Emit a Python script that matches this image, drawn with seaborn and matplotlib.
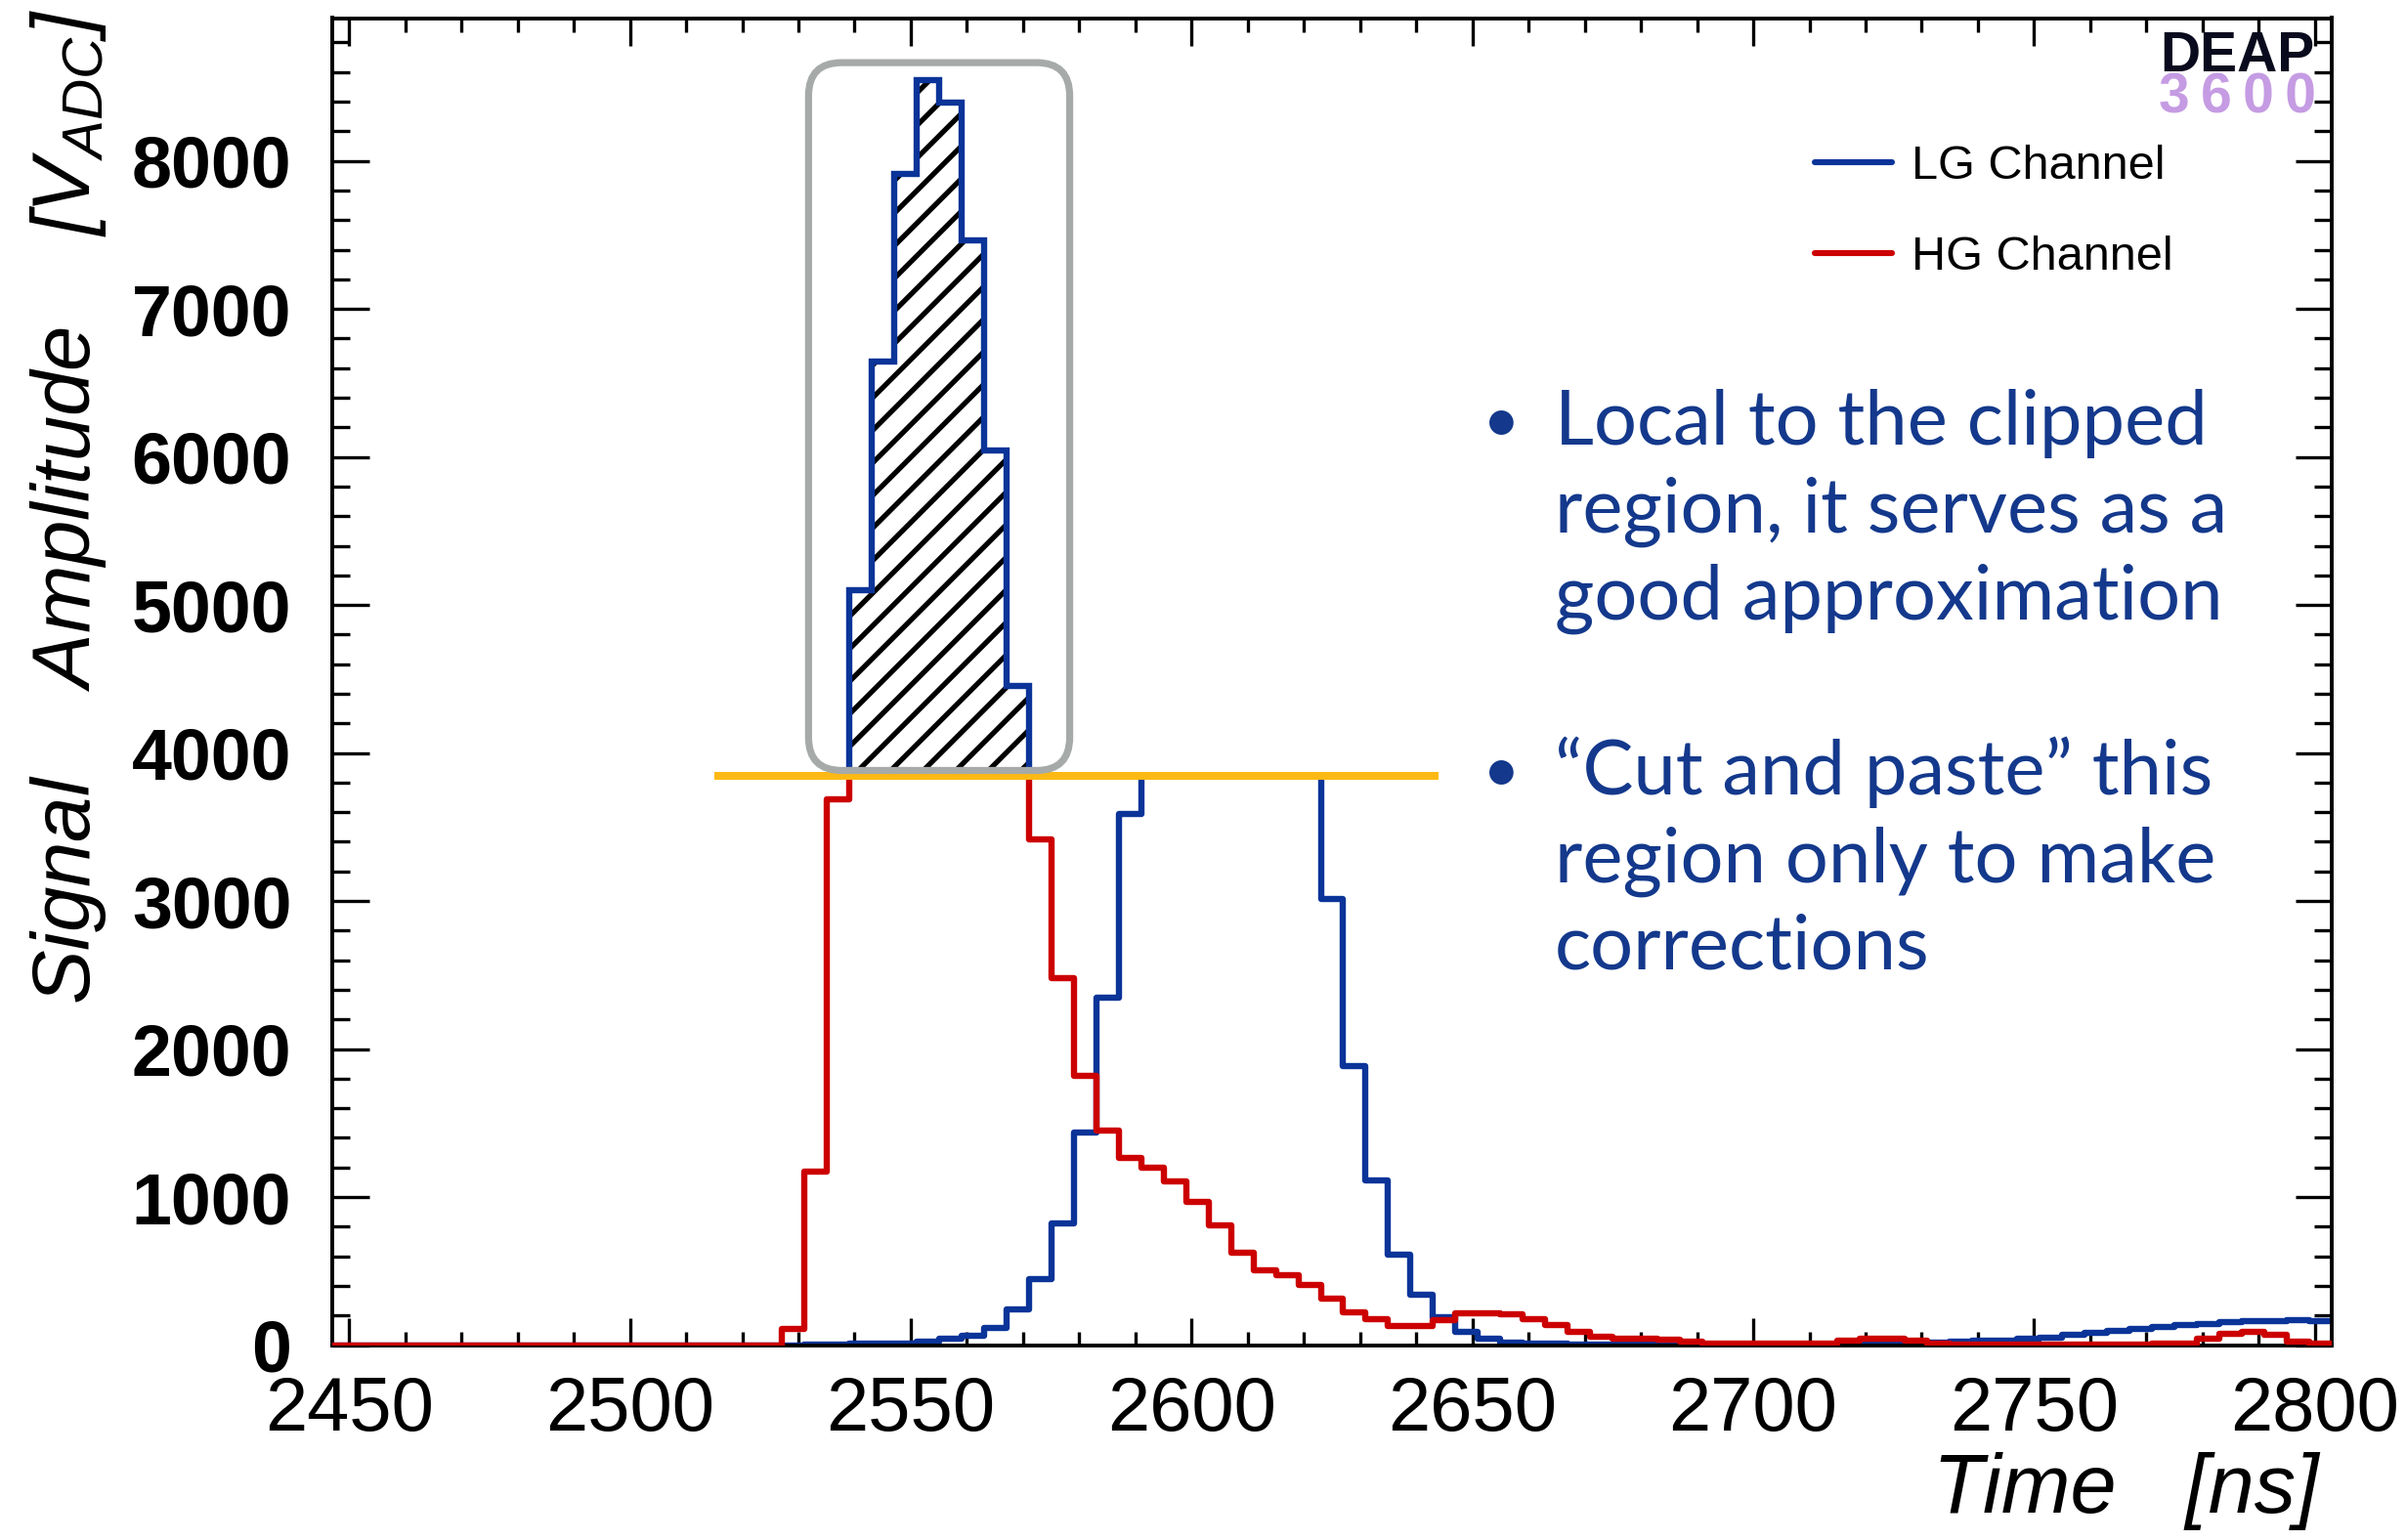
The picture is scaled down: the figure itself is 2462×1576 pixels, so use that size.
import numpy as np
import pandas as pd
import matplotlib
matplotlib.use("Agg")
import matplotlib.pyplot as plt
import seaborn as sns
from matplotlib.ticker import MultipleLocator, FixedLocator
from matplotlib.patches import FancyBboxPatch
from matplotlib.lines import Line2D

# ---------------- data ----------------
bin_start = 2447          # first bin edge [ns]
bin_width = 4             # ns
n_bins = 89

# HG channel (red), visible values per 4 ns bin (saturated part flat at the cut level)
hg_values = [0, 0, 0, 0, 0, 0, 0, 0, 0, 0, 0, 0, 0, 0, 0, 0, 0, 0, 0, 0,
             106, 1173, 3685,
             3846, 3846, 3846, 3846, 3846, 3846, 3846, 3846,
             3414, 2482, 1822, 1448, 1261,
             1195, 1107, 968, 810, 622, 506, 469, 407, 315,
             222, 176, 132, 128, 167, 216, 216, 205,
             175, 135, 90, 58, 42, 40, 35, 22, 12,
             10, 8, 8, 8, 10,
             33, 44, 44, 27,
             7, 6, 6, 5, 5, 5, 6, 6, 6, 6, 7, 8,
             40, 78, 89, 67, 22, 10]

# LG channel (blue), visible values per 4 ns bin (clipped region flat at the cut level)
lg_values = [0, 0, 0, 0, 0, 0, 0, 0, 0, 0, 0, 0, 0, 0, 0, 0, 0, 0, 0, 0,
             0, 3, 5, 8, 10, 12, 20,
             40, 62, 117, 238, 447, 821, 1437, 2350, 3589,
             3846, 3846, 3846, 3846, 3846, 3846, 3846, 3846,
             3014, 1888, 1110, 612, 337, 185, 88, 42, 18,
             12, 8, 5,
             3, 3, 2, 2, 2, 2, 2, 2, 2, 3, 3, 3,
             4, 6, 10, 15, 20, 27, 33, 40, 52, 68, 82, 97, 110, 125, 135,
             143, 152, 160, 165, 167, 162]

# clipped LG region, pasted onto the HG pulse (hatched)
cut_level = 3848
paste_edges = [2539, 2543, 2547, 2551, 2555, 2559, 2563, 2567, 2571]
paste_values = [5102, 6647, 7912, 8545, 8396, 7461, 6042, 4451]

cut_line_x = [2515, 2644]
box_x = [2531.8, 2578.3]
box_y = [3882, 8664]

xtick_values = [2450, 2500, 2550, 2600, 2650, 2700, 2750, 2800]
ytick_values = [0, 1000, 2000, 3000, 4000, 5000, 6000, 7000, 8000]
series_labels = ["LG Channel", "HG Channel"]

bullet_text = [["Local to the clipped", "region, it serves as a", "good approximation"],
               ["\u201cCut and paste\u201d this", "region only to make", "corrections"]]

# ---------------- style ----------------
sns.set_theme(style="ticks")
plt.rcParams["font.family"] = ["Liberation Sans", "DejaVu Sans"]
plt.rcParams["mathtext.fontset"] = "custom"
plt.rcParams["mathtext.it"] = "Liberation Sans:italic"
plt.rcParams["mathtext.rm"] = "Liberation Sans"
plt.rcParams["hatch.linewidth"] = 1.9
plt.rcParams["hatch.color"] = "black"
for key in ["text.color", "axes.labelcolor", "xtick.color", "ytick.color",
            "axes.edgecolor"]:
    plt.rcParams[key] = "black"

BLUE = "#0b3499"
RED = "#cc0000"
ORANGE = "#fdb913"
GREY = "#a6aaa8"
TXT_BLUE = "#14398c"

W, H, DPI = 2462, 1576, 200
fig = plt.figure(figsize=(W / DPI, H / DPI), dpi=DPI)
ax = fig.add_axes([340 / W, 199.5 / H, 2046 / W, 1358 / H])

edges = [float(bin_start + bin_width * i) for i in range(n_bins + 1)]
centers = [e + bin_width / 2 for e in edges[:-1]]
df = pd.DataFrame({"time": centers, "LG": lg_values, "HG": hg_values})

sns.histplot(data=df, x="time", weights="LG", bins=edges, element="step",
             fill=False, color=BLUE, linewidth=2.3, ax=ax, zorder=2)
sns.histplot(data=df, x="time", weights="HG", bins=edges, element="step",
             fill=False, color=RED, linewidth=2.3, ax=ax, zorder=3)

# pasted (hatched) region
ax.stairs(paste_values, paste_edges, baseline=cut_level, fill=True,
          facecolor="none", edgecolor="black", hatch="//", linewidth=0, zorder=4)
ax.stairs(paste_values, paste_edges, baseline=cut_level, fill=False,
          color=BLUE, linewidth=2.3, zorder=5)

# cut line
ax.hlines(cut_level, cut_line_x[0], cut_line_x[1], color=ORANGE, linewidth=2.9,
          zorder=6)

ax.set_xlim(2447, 2803)
ax.set_ylim(0, 8965)

# ticks
ax.xaxis.set_major_locator(FixedLocator(xtick_values))
ax.xaxis.set_minor_locator(MultipleLocator(10))
ax.yaxis.set_major_locator(FixedLocator(ytick_values))
ax.yaxis.set_minor_locator(MultipleLocator(200))
ax.set_xticklabels([str(v) for v in xtick_values], fontsize=28)
ax.set_yticklabels([str(v) for v in ytick_values], fontsize=26.5, fontweight="bold")
ax.tick_params(axis="both", which="both", direction="in", top=True, right=True,
               color="black", width=1.2)
ax.tick_params(axis="x", which="major", length=10, pad=11)
ax.tick_params(axis="x", which="minor", length=5)
ax.tick_params(axis="y", which="major", length=13.5, pad=15)
ax.tick_params(axis="y", which="minor", length=6.5)
for sp in ax.spines.values():
    sp.set_linewidth(1.4)
    sp.set_color("black")

ax.set_xlabel("Time   [ns]", fontsize=30.5, fontstyle="italic", loc="right")
ax.xaxis.set_label_coords((2373 - 340) / 2046, -0.081)
ax.set_ylabel(r"Signal    Amplitude    [$V_{ADC}$]", fontsize=30, fontstyle="italic",
              loc="top")
ax.yaxis.set_label_coords(-0.112, 1.007)

# legend
handles = [Line2D([], [], color=BLUE, lw=2.2), Line2D([], [], color=RED, lw=2.2)]
ax.legend(handles, series_labels, loc="upper left", bbox_to_anchor=(0.7415, 0.9045),
          frameon=False, fontsize=17.5, handlelength=1.62, handletextpad=0.42,
          labelspacing=0.98, borderpad=0, borderaxespad=0)

# grey rounded box (drawn in physical units so the corners stay round)
p0 = ax.transData.transform((box_x[0], box_y[0]))
p1 = ax.transData.transform((box_x[1], box_y[1]))
inv = fig.dpi_scale_trans.inverted()
q0 = inv.transform(p0)
q1 = inv.transform(p1)
box = FancyBboxPatch((q0[0], q0[1]), q1[0] - q0[0], q1[1] - q0[1],
                     boxstyle="round,pad=0,rounding_size=0.17",
                     transform=fig.dpi_scale_trans, facecolor="none",
                     edgecolor=GREY, linewidth=2.6, zorder=7, clip_on=False)
fig.add_artist(box)

def fx(x):
    return x / W

def fy(y):
    return 1 - y / H

# DEAP 3600 logo
fig.text(fx(2368), fy(73), "DEAP", fontsize=20.5, fontweight="bold", color="#0a0a1e",
         ha="right", va="baseline")
fig.text(fx(2370), fy(115), "3\u20096\u20090\u20090", fontsize=20.5, fontweight="bold",
         color="#c59be3", ha="right", va="baseline",
         family=["Liberation Sans", "DejaVu Sans"])

# bullet text
baselines = [[455, 545, 634], [813, 903, 992]]
for block, ys in zip(bullet_text, baselines):
    fig.text(fx(1536), fy(ys[0] - 2), "\u2022", fontsize=24, color=TXT_BLUE,
             ha="center", va="baseline", family=["Lato", "Liberation Sans"])
    for line, y in zip(block, ys):
        fig.text(fx(1591), fy(y), line, fontsize=28, color=TXT_BLUE, ha="left",
                 va="baseline", family=["Lato", "Liberation Sans"])

fig.savefig("out.png", dpi=DPI)
